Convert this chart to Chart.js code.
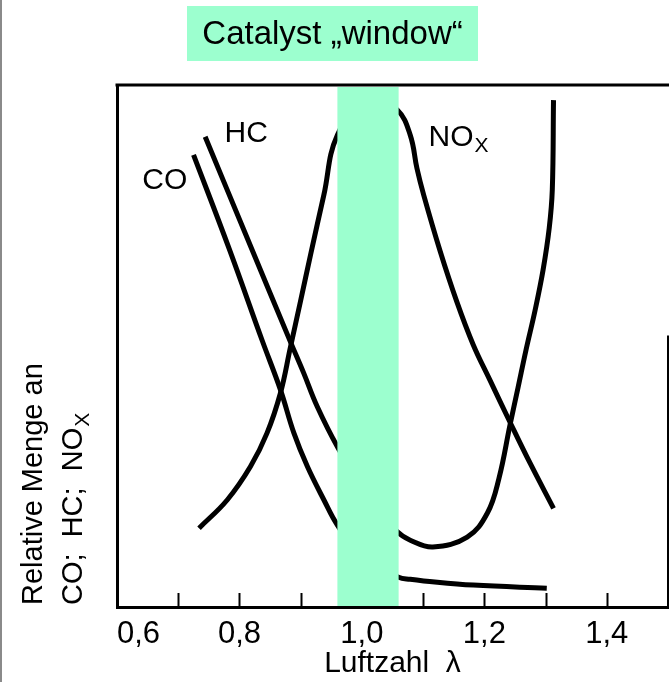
<!DOCTYPE html>
<html>
<head>
<meta charset="utf-8">
<script src="https://cdn.jsdelivr.net/npm/chart.js@4.4.1/dist/chart.umd.min.js"></script>
<style>
  html, body { margin: 0; padding: 0; background: #fff; }
  canvas { display: block; }
</style>
</head>
<body>
<canvas id="lambdaChart" width="669" height="682"></canvas>
<script>
// Luftzahl λ against relative amount of each exhaust component
const coLambda = [0.725, 0.783, 0.837, 0.867, 0.889, 0.911, 0.938, 0.960, 1.000, 1.060, 1.079, 1.101, 1.182, 1.302];
const coValues = [86.6, 68.7, 51.1, 41.6, 33.3, 26.9, 20.5, 15.7, 9.5, 5.7, 5.3, 5.0, 4.2, 3.6];

const hcLambda = [0.744, 0.814, 0.884, 0.905, 0.927, 0.960, 1.010, 1.058, 1.079, 1.116, 1.172, 1.205, 1.224, 1.242, 1.255, 1.268, 1.283, 1.296, 1.306, 1.311, 1.313];
const hcValues = [90.1, 70.3, 50.6, 44.8, 38.4, 30.7, 21.0, 14.4, 12.8, 11.5, 13.4, 18.0, 24.7, 34.9, 42.0, 49.2, 56.9, 64.6, 72.6, 79.9, 97.1];

const noxLambda = [0.734, 0.780, 0.818, 0.845, 0.867, 0.883, 0.900, 0.916, 0.938, 0.960, 1.012, 1.058, 1.079, 1.090, 1.101, 1.128, 1.155, 1.182, 1.209, 1.242, 1.275, 1.313];
const noxValues = [15.1, 20.5, 26.9, 33.3, 41.0, 49.6, 58.7, 67.4, 79.0, 90.4, 98.0, 95.2, 90.4, 84.0, 78.9, 68.1, 58.5, 50.2, 43.5, 35.4, 27.5, 18.9];

// x ticks every 0.1, labelled every 0.2
const xMin = 0.6;
const xMax = 1.5;
const xLabels = ["0,6", "0,8", "1,0", "1,2", "1,4"];

// lambda range of the catalyst window
const windowStart = 0.96;
const windowEnd = 1.06;

const FONT = "'Liberation Sans', Arial, sans-serif";
const WINDOW_COLOR = "#9cffcf";

function toPoints(xs, ys) {
  return xs.map((x, i) => ({ x: x, y: ys[i] }));
}

function lineDataset(label, xs, ys) {
  return {
    label: label,
    data: toPoints(xs, ys),
    borderColor: "#000",
    borderWidth: 5,
    pointRadius: 0,
    fill: false,
    tension: 0.4,
  };
}

function drawSubscripted(ctx, x, y, main, sub, size, subSize, subDrop) {
  ctx.font = size + "px " + FONT;
  ctx.fillText(main, x, y);
  const w = ctx.measureText(main).width;
  ctx.font = subSize + "px " + FONT;
  ctx.fillText(sub, x + w + 1, y + subDrop);
}

const decorations = {
  id: "decorations",
  afterDatasetsDraw(chart) {
    const { ctx, chartArea, scales } = chart;
    const x = scales.x;
    ctx.save();
    // inward tick marks on the lambda axis
    ctx.strokeStyle = "#000";
    ctx.lineWidth = 2;
    x.ticks.forEach((t) => {
      if (t.value <= xMin + 1e-6 || t.value >= xMax - 1e-6) return;
      const px = Math.round(x.getPixelForValue(t.value)) + 0.5;
      ctx.beginPath();
      ctx.moveTo(px, chartArea.bottom);
      ctx.lineTo(px, chartArea.bottom - 14);
      ctx.stroke();
    });
    // catalyst window band, drawn over the curves
    const x0 = x.getPixelForValue(windowStart);
    const x1 = x.getPixelForValue(windowEnd);
    ctx.fillStyle = WINDOW_COLOR;
    ctx.fillRect(x0, chartArea.top + 2, x1 - x0, chartArea.bottom - chartArea.top - 3);
    ctx.restore();
  },
  afterDraw(chart) {
    const { ctx, chartArea, scales } = chart;
    const x = scales.x;
    const y = scales.y;
    ctx.save();

    // page edge on the left
    ctx.fillStyle = "#8a8a8a";
    ctx.fillRect(0, 0, 2, chart.height);

    // top frame line and the lower part of the right frame line
    ctx.strokeStyle = "#000";
    ctx.lineWidth = 3;
    ctx.beginPath();
    ctx.moveTo(chartArea.left - 1.5, chartArea.top);
    ctx.lineTo(chart.width, chartArea.top);
    ctx.stroke();
    ctx.lineWidth = 2;
    ctx.beginPath();
    ctx.moveTo(chartArea.right, y.getPixelForValue(52));
    ctx.lineTo(chartArea.right, chartArea.bottom);
    ctx.stroke();

    // banner above the plot
    ctx.fillStyle = WINDOW_COLOR;
    ctx.fillRect(187, 6, 291, 55);
    ctx.fillStyle = "#000";
    ctx.font = "33px " + FONT;
    ctx.textAlign = "center";
    ctx.textBaseline = "middle";
    ctx.fillText("Catalyst \u201Ewindow\u201C", 332.5, 35);

    // curve names
    ctx.font = "30px " + FONT;
    ctx.fillText("CO", x.getPixelForValue(0.678), y.getPixelForValue(81.6));
    ctx.fillText("HC", x.getPixelForValue(0.811), y.getPixelForValue(90.6));
    ctx.textAlign = "left";
    ctx.textBaseline = "alphabetic";
    drawSubscripted(ctx, x.getPixelForValue(1.109), y.getPixelForValue(88.4), "NO", "X", 30, 21, 6);

    // vertical axis title, two lines rotated
    ctx.save();
    ctx.translate(42, chartArea.bottom - 2);
    ctx.rotate(-Math.PI / 2);
    ctx.font = "29px " + FONT;
    ctx.fillText("Relative Menge an", 0, 0);
    ctx.restore();
    ctx.save();
    ctx.translate(82, chartArea.bottom - 2);
    ctx.rotate(-Math.PI / 2);
    drawSubscripted(ctx, 0, 0, "CO;  HC;  NO", "X", 29, 21, 7);
    ctx.restore();

    ctx.restore();
  },
};

document.addEventListener("DOMContentLoaded", function () {
  const ctx = document.getElementById("lambdaChart").getContext("2d");

  new Chart(ctx, {
    type: "line",
    data: {
      datasets: [
        lineDataset("CO", coLambda, coValues),
        lineDataset("HC", hcLambda, hcValues),
        lineDataset("NOx", noxLambda, noxValues),
      ],
    },
    options: {
      responsive: false,
      animation: false,
      events: [],
      layout: { padding: { top: 85, right: 1, left: 0, bottom: 0 } },
      plugins: {
        legend: { display: false },
        tooltip: { enabled: false },
      },
      scales: {
        x: {
          type: "linear",
          min: xMin,
          max: xMax,
          grid: { display: false, drawTicks: false },
          border: { display: true, color: "#000", width: 3 },
          ticks: {
            stepSize: 0.1,
            autoSkip: false,
            maxRotation: 0,
            align: "inner",
            padding: 9,
            color: "#000",
            font: { family: FONT, size: 31 },
            callback: function (value) {
              const i = Math.round((value - xMin) * 10);
              return i % 2 === 0 && i / 2 < xLabels.length ? xLabels[i / 2] : "";
            },
          },
          title: {
            display: true,
            text: "Luftzahl  \u03BB",
            color: "#000",
            font: { family: FONT, size: 30 },
            padding: { top: 0, bottom: 0 },
          },
          afterFit: function (scale) {
            scale.height = 75;
            scale.paddingLeft = 0;
            scale.paddingRight = 0;
          },
        },
        y: {
          min: 0,
          max: 100,
          grid: { display: false, drawTicks: false },
          border: { display: true, color: "#000", width: 3 },
          ticks: { display: false },
          afterFit: function (scale) {
            scale.width = 117;
            scale.paddingTop = 0;
            scale.paddingBottom = 0;
          },
        },
      },
    },
    plugins: [decorations],
  });
});
</script>
</body>
</html>
